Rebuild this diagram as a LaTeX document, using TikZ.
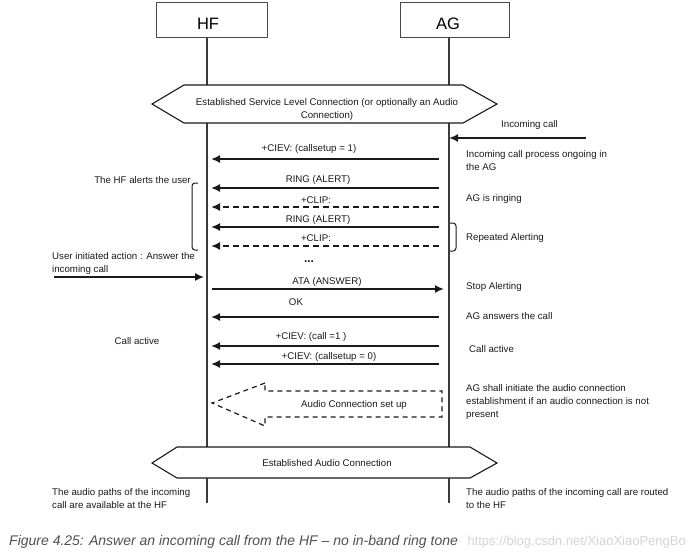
\documentclass[tikz,border=0pt]{standalone}
\usepackage{fontspec}
\setmainfont{Liberation Sans}
\usetikzlibrary{arrows.meta}
\definecolor{ink}{HTML}{1A1A1A}
\definecolor{capgray}{HTML}{505050}
\definecolor{wmgray}{HTML}{D4D4D4}
\tikzset{
  lbl/.style={inner sep=0pt, font=\fontsize{9.7}{13}\selectfont, text=ink},
  note/.style={lbl, anchor=west, align=left},
  headbox/.style={draw=ink!80, line width=0.8pt, fill=white, inner sep=0pt},
  lifeline/.style={draw=ink!85, line width=1.5pt},
  msg/.style={draw=ink, line width=1.7pt, -{Latex[length=9pt,width=8pt]}},
  dmsg/.style={msg, dash pattern=on 6pt off 4pt},
  hexa/.style={draw=ink, line width=1.1pt, fill=white},
  brace/.style={draw=ink, line width=1pt, rounded corners=3pt},
  usrarrow/.style={draw=ink, line width=1.5pt, -{Latex[length=9pt,width=8pt]}},
  bigarrow/.style={draw=ink, line width=1.2pt, dash pattern=on 5pt off 4pt},
}
\begin{document}
\begin{tikzpicture}[x=1pt,y=-1pt]
\useasboundingbox (0,0) rectangle (693,552);
% header boxes
\draw[headbox] (156,2) rectangle (267,37);
\draw[headbox] (400,2) rectangle (509,37);
\node[inner sep=0pt, font=\fontsize{16.5}{16}\selectfont] (hf) at (208,24) {HF};
\node[inner sep=0pt, font=\fontsize{16.5}{16}\selectfont] (ag) at (448,24) {AG};
% lifelines
\coordinate (hftop) at (207,37);
\coordinate (hfbot) at (207,503);
\coordinate (agtop) at (449,37);
\coordinate (agbot) at (449,503);
\draw[lifeline] (hftop) -- (hfbot);
\draw[lifeline] (agtop) -- (agbot);
% hexagon 1
\draw[hexa] (152,104) -- (184,85) -- (463,85) -- (497,104) -- (463,123) -- (184,123) -- cycle;
\node[lbl, align=center] (slc) at (327,109.5) {Established Service Level Connection (or optionally an Audio\\Connection)};
% incoming call
\node[note] (inc) at (501,125) {Incoming call};
\coordinate (incA) at (586,138);
\coordinate (incB) at (449,138);
\draw[msg] (incA) -- (incB);
% messages
\coordinate (m1a) at (439,159); \coordinate (m1b) at (211,159);
\draw[msg] (m1a) -- (m1b);
\node[lbl] (l1) at (309,149) {+CIEV: (callsetup = 1)};
\coordinate (m2a) at (439,188); \coordinate (m2b) at (211,188);
\draw[msg] (m2a) -- (m2b);
\node[lbl] (l2) at (318,180) {RING (ALERT)};
\coordinate (m3a) at (439,207); \coordinate (m3b) at (211,207);
\draw[dmsg] (m3a) -- (m3b);
\node[lbl] (l3) at (316,200) {+CLIP:};
\coordinate (m4a) at (439,227); \coordinate (m4b) at (211,227);
\draw[msg] (m4a) -- (m4b);
\node[lbl] (l4) at (318,220) {RING (ALERT)};
\coordinate (m5a) at (439,246); \coordinate (m5b) at (211,246);
\draw[dmsg] (m5a) -- (m5b);
\node[lbl] (l5) at (316,238) {+CLIP:};
\node[lbl, font=\bfseries\fontsize{12}{13}\selectfont] (dots) at (309,262) {...};
\coordinate (m6a) at (212,289); \coordinate (m6b) at (444,289);
\draw[msg] (m6a) -- (m6b);
\node[lbl] (l6) at (327,282) {ATA (ANSWER)};
\coordinate (m7a) at (439,317); \coordinate (m7b) at (211,317);
\draw[msg] (m7a) -- (m7b);
\node[lbl] (l7) at (296,302) {OK};
\coordinate (m8a) at (439,346); \coordinate (m8b) at (211,346);
\draw[msg] (m8a) -- (m8b);
\node[lbl] (l8) at (311,337) {+CIEV: (call =1 )};
\coordinate (m9a) at (439,364); \coordinate (m9b) at (211,364);
\draw[msg] (m9a) -- (m9b);
\node[lbl] (l9) at (329,357) {+CIEV: (callsetup = 0)};
% right notes
\node[note] (r1) at (466,160.5) {Incoming call process ongoing in\\the AG};
\node[note] (r2) at (466,199) {AG is ringing};
\node[note] (r3) at (466,238) {Repeated Alerting};
\node[note] (r4) at (466,287) {Stop Alerting};
\node[note] (r5) at (466,316) {AG answers the call};
\node[note] (r6) at (469,349) {Call active};
\node[note] (r7) at (466,402) {AG shall initiate the audio connection\\establishment if an audio connection is not\\present};
\node[note] (r8) at (466,498.5) {The audio paths of the incoming call are routed\\to the HF};
% left notes
\node[lbl, anchor=east] (n1) at (191,180) {The HF alerts the user};
\node[note] (n2) at (52,263.5) {User initiated action : Answer the\\incoming call};
\coordinate (uA) at (54,277); \coordinate (uB) at (204,277);
\draw[usrarrow] (uA) -- (uB);
\node[lbl] (n3) at (137,341) {Call active};
\node[note] (n4) at (52,498.5) {The audio paths of the incoming\\call are available at the HF};
% braces
\draw[brace] (198,183) -- (192,183) -- (192,250) -- (198,250);
\draw[brace] (450,223) -- (456,223) -- (456,251) -- (450,251);
% big dashed arrow
\draw[bigarrow] (265,383) -- (212,403) -- (265,426) -- (265,417) -- (442,417) -- (442,391) -- (265,391) -- cycle;
\node[lbl] (acs) at (354,405) {Audio Connection set up};
% hexagon 2
\draw[hexa] (152,463) -- (177,447) -- (470,447) -- (497,463) -- (470,478) -- (177,478) -- cycle;
\node[lbl] (eac) at (327,463) {Established Audio Connection};
% caption
\node[inner sep=0pt, anchor=west, text=capgray, font=\itshape\fontsize{14}{14}\selectfont] (cap) at (9,542) {Figure 4.25: Answer an incoming call from the HF – no in-band ring tone};
\node[inner sep=0pt, anchor=east, text=wmgray, font=\fontsize{13}{13}\selectfont] (wm) at (686,542) {https://blog.csdn.net/XiaoXiaoPengBo};
\end{tikzpicture}
\end{document}
